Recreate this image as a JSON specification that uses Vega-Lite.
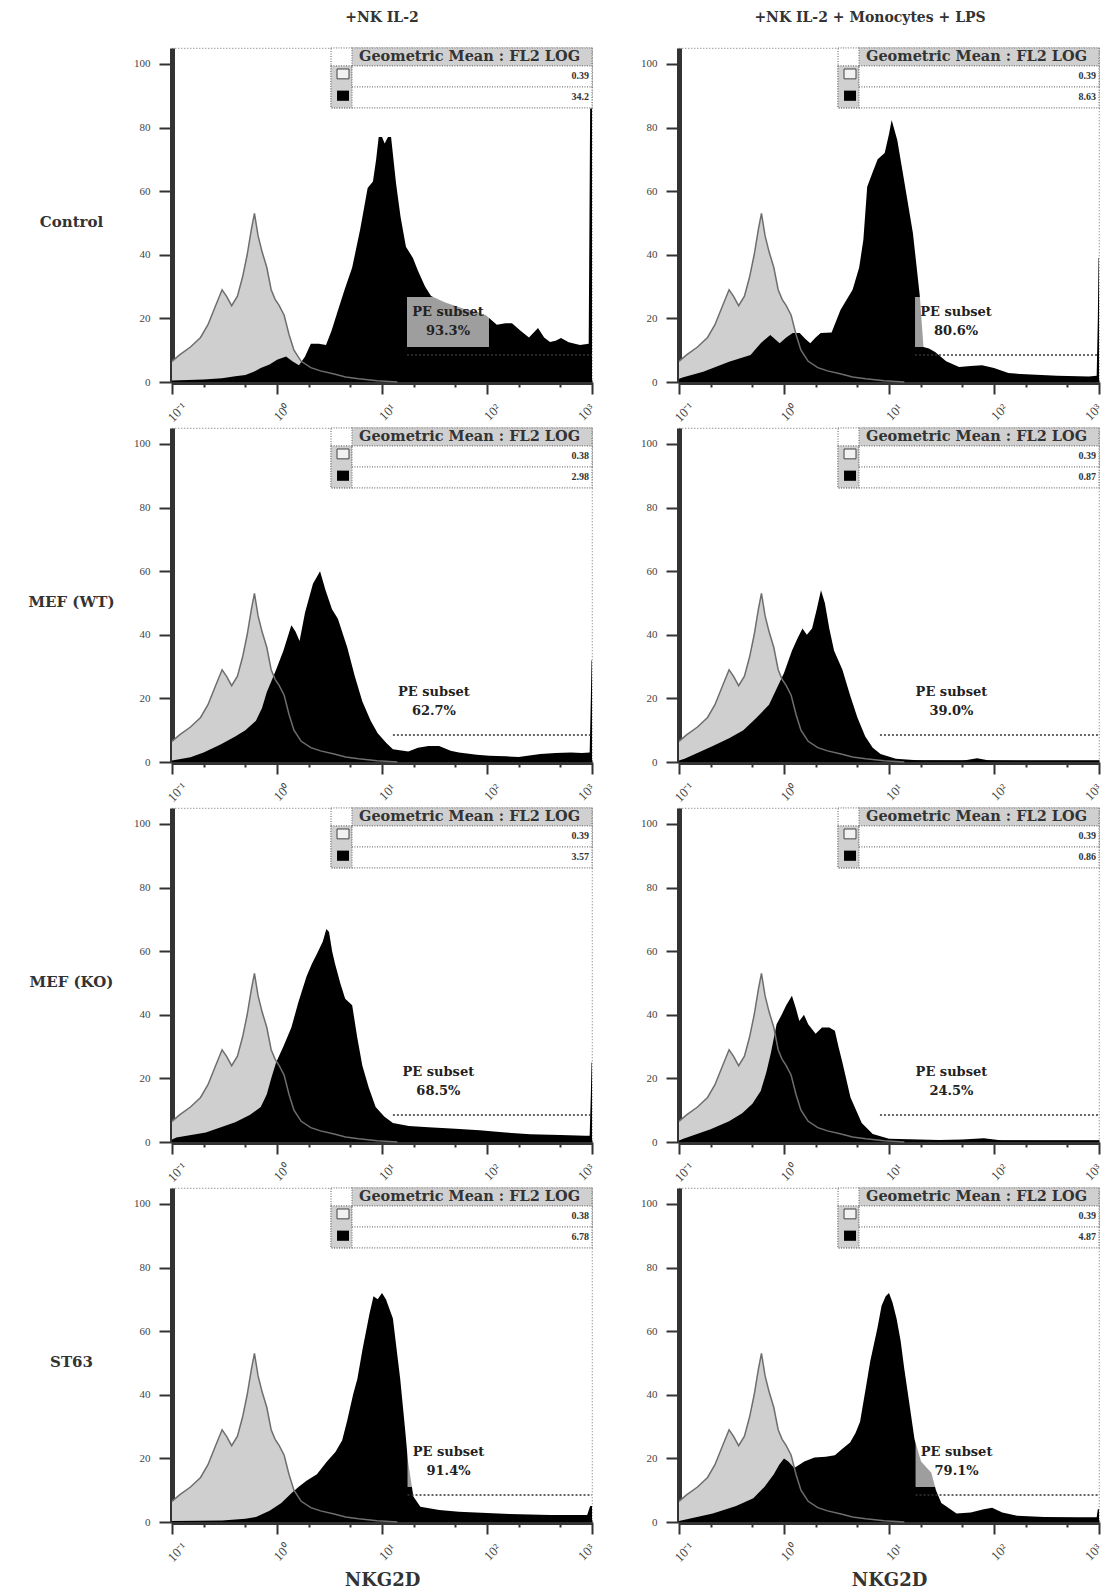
{
"$schema": "https://vega.github.io/schema/vega-lite/v6.json",
"background": "white",
"padding": {"left": 27, "top": 10, "right": 2, "bottom": 2},
"config": {
 "view": {"stroke": "#8a8a8a", "strokeDash": [1, 2], "strokeWidth": 1.2},
 "axis": {"grid": false, "domainColor": "#333", "domainWidth": 5, "tickColor": "#333", "tickWidth": 2, "labelFont": "Liberation Serif", "labelFontSize": 11, "labelColor": "#444", "titleFont": "DejaVu Serif", "titleFontWeight": "bold", "titleColor": "#333"},
 "title": {"font": "DejaVu Serif", "fontSize": 14, "fontWeight": "bold", "color": "#333", "offset": 22}
},
"datasets": {
 "iso": [
  {"v":0.1,"c":6.5},{"v":0.118,"c":8.5},{"v":0.15,"c":11},{"v":0.187,"c":14},{"v":0.22,"c":18},{"v":0.26,"c":24},{"v":0.3,"c":29},{"v":0.33,"c":27},{"v":0.37,"c":24},{"v":0.42,"c":27},{"v":0.47,"c":33},{"v":0.52,"c":40},{"v":0.57,"c":48},{"v":0.61,"c":53},{"v":0.66,"c":46},{"v":0.72,"c":41},{"v":0.8,"c":36},{"v":0.88,"c":29},{"v":0.96,"c":26},{"v":1.05,"c":24},{"v":1.17,"c":21},{"v":1.3,"c":15},{"v":1.45,"c":10},{"v":1.7,"c":6.5},{"v":2.1,"c":4.5},{"v":2.6,"c":3.5},{"v":3.5,"c":2.5},{"v":4.5,"c":1.6},{"v":6,"c":1},{"v":9,"c":0.4},{"v":14,"c":0}
 ],
 "meta": [
  {"p":"r1c1","gate":17.3,"lab":17.3,"pct":"93.3%","iso":"0.39","nk":"34.2"},
  {"p":"r1c2","gate":17.7,"lab":17.7,"pct":"80.6%","iso":"0.39","nk":"8.63"},
  {"p":"r2c1","gate":12.7,"lab":12.7,"pct":"62.7%","iso":"0.38","nk":"2.98"},
  {"p":"r2c2","gate":8.2,"lab":16,"pct":"39.0%","iso":"0.39","nk":"0.87"},
  {"p":"r3c1","gate":12.7,"lab":14,"pct":"68.5%","iso":"0.39","nk":"3.57"},
  {"p":"r3c2","gate":8.2,"lab":16,"pct":"24.5%","iso":"0.39","nk":"0.86"},
  {"p":"r4c1","gate":17.5,"lab":17.5,"pct":"91.4%","iso":"0.38","nk":"6.78"},
  {"p":"r4c2","gate":17.9,"lab":17.9,"pct":"79.1%","iso":"0.39","nk":"4.87"}
 ],
 "nk": [
  {"p":"r1c1","v":0.1,"c":0.5},{"p":"r1c1","v":0.2,"c":0.8},{"p":"r1c1","v":0.3,"c":1.2},{"p":"r1c1","v":0.4,"c":1.8},{"p":"r1c1","v":0.5,"c":2.2},{"p":"r1c1","v":0.6,"c":3.2},{"p":"r1c1","v":0.7,"c":4.4},{"p":"r1c1","v":0.85,"c":5.5},{"p":"r1c1","v":1.0,"c":7},{"p":"r1c1","v":1.22,"c":8},{"p":"r1c1","v":1.4,"c":6.5},{"p":"r1c1","v":1.62,"c":5.3},{"p":"r1c1","v":1.85,"c":8},{"p":"r1c1","v":2.1,"c":12},{"p":"r1c1","v":2.5,"c":12},{"p":"r1c1","v":2.93,"c":11.6},{"p":"r1c1","v":3.3,"c":16},{"p":"r1c1","v":3.73,"c":21.6},{"p":"r1c1","v":4.4,"c":29},{"p":"r1c1","v":5.2,"c":36},{"p":"r1c1","v":6.2,"c":48},{"p":"r1c1","v":7.3,"c":61},{"p":"r1c1","v":8.2,"c":63},{"p":"r1c1","v":8.8,"c":70},{"p":"r1c1","v":9.3,"c":77},{"p":"r1c1","v":10,"c":77},{"p":"r1c1","v":10.6,"c":75},{"p":"r1c1","v":11.4,"c":77},{"p":"r1c1","v":12.2,"c":77},{"p":"r1c1","v":13.6,"c":62.5},{"p":"r1c1","v":15,"c":52},{"p":"r1c1","v":16.9,"c":42.5},{"p":"r1c1","v":19.7,"c":39},{"p":"r1c1","v":22,"c":35},{"p":"r1c1","v":25.7,"c":30},{"p":"r1c1","v":29.3,"c":27},{"p":"r1c1","v":40,"c":25},{"p":"r1c1","v":60,"c":23},{"p":"r1c1","v":80,"c":22},{"p":"r1c1","v":97.7,"c":21},{"p":"r1c1","v":124,"c":18},{"p":"r1c1","v":150,"c":18.5},{"p":"r1c1","v":173,"c":18.5},{"p":"r1c1","v":210,"c":16},{"p":"r1c1","v":251,"c":14},{"p":"r1c1","v":306,"c":17},{"p":"r1c1","v":350,"c":14},{"p":"r1c1","v":398,"c":12.6},{"p":"r1c1","v":450,"c":13},{"p":"r1c1","v":507,"c":13.8},{"p":"r1c1","v":600,"c":12.5},{"p":"r1c1","v":769,"c":11.6},{"p":"r1c1","v":930,"c":12},{"p":"r1c1","v":960,"c":86},{"p":"r1c1","v":1000,"c":86},
  {"p":"r1c2","v":0.1,"c":1},{"p":"r1c2","v":0.11,"c":1.5},{"p":"r1c2","v":0.17,"c":3.2},{"p":"r1c2","v":0.3,"c":6.4},{"p":"r1c2","v":0.48,"c":8.5},{"p":"r1c2","v":0.6,"c":12.2},{"p":"r1c2","v":0.74,"c":14.8},{"p":"r1c2","v":0.91,"c":12.2},{"p":"r1c2","v":1.05,"c":14},{"p":"r1c2","v":1.21,"c":15.4},{"p":"r1c2","v":1.41,"c":15.4},{"p":"r1c2","v":1.6,"c":13.5},{"p":"r1c2","v":1.78,"c":12.2},{"p":"r1c2","v":2.0,"c":14},{"p":"r1c2","v":2.24,"c":15.4},{"p":"r1c2","v":2.84,"c":15.6},{"p":"r1c2","v":3.45,"c":22.6},{"p":"r1c2","v":4.5,"c":29},{"p":"r1c2","v":5.2,"c":36},{"p":"r1c2","v":5.7,"c":44.7},{"p":"r1c2","v":6.2,"c":61.4},{"p":"r1c2","v":7.0,"c":66},{"p":"r1c2","v":7.8,"c":70},{"p":"r1c2","v":9.1,"c":72},{"p":"r1c2","v":10,"c":78},{"p":"r1c2","v":10.6,"c":82.4},{"p":"r1c2","v":12,"c":76},{"p":"r1c2","v":13.9,"c":63.5},{"p":"r1c2","v":16.9,"c":46.8},{"p":"r1c2","v":19.7,"c":26.7},{"p":"r1c2","v":21.3,"c":11},{"p":"r1c2","v":24,"c":10.5},{"p":"r1c2","v":27.5,"c":9.4},{"p":"r1c2","v":35,"c":6.5},{"p":"r1c2","v":46.5,"c":4.7},{"p":"r1c2","v":60,"c":5},{"p":"r1c2","v":77,"c":5.3},{"p":"r1c2","v":100,"c":4.4},{"p":"r1c2","v":137,"c":2.8},{"p":"r1c2","v":200,"c":2.4},{"p":"r1c2","v":400,"c":2},{"p":"r1c2","v":800,"c":1.7},{"p":"r1c2","v":950,"c":2},{"p":"r1c2","v":975,"c":20},{"p":"r1c2","v":990,"c":39},{"p":"r1c2","v":1000,"c":39},
  {"p":"r2c1","v":0.1,"c":0.5},{"p":"r2c1","v":0.15,"c":1.5},{"p":"r2c1","v":0.2,"c":3},{"p":"r2c1","v":0.29,"c":5.5},{"p":"r2c1","v":0.4,"c":8},{"p":"r2c1","v":0.5,"c":10},{"p":"r2c1","v":0.63,"c":13},{"p":"r2c1","v":0.72,"c":17},{"p":"r2c1","v":0.8,"c":22},{"p":"r2c1","v":0.9,"c":26},{"p":"r2c1","v":0.98,"c":29},{"p":"r2c1","v":1.15,"c":35},{"p":"r2c1","v":1.37,"c":43},{"p":"r2c1","v":1.5,"c":41},{"p":"r2c1","v":1.64,"c":38},{"p":"r2c1","v":1.85,"c":47},{"p":"r2c1","v":2.2,"c":56},{"p":"r2c1","v":2.57,"c":60},{"p":"r2c1","v":2.9,"c":54},{"p":"r2c1","v":3.34,"c":48},{"p":"r2c1","v":3.8,"c":45},{"p":"r2c1","v":4.67,"c":36},{"p":"r2c1","v":5.5,"c":27},{"p":"r2c1","v":6.5,"c":19},{"p":"r2c1","v":7.8,"c":13},{"p":"r2c1","v":9.1,"c":9},{"p":"r2c1","v":11,"c":6},{"p":"r2c1","v":12.7,"c":4},{"p":"r2c1","v":17.8,"c":3.3},{"p":"r2c1","v":22,"c":4.5},{"p":"r2c1","v":27.7,"c":5},{"p":"r2c1","v":35,"c":5},{"p":"r2c1","v":45,"c":3.5},{"p":"r2c1","v":54,"c":3},{"p":"r2c1","v":80,"c":2.3},{"p":"r2c1","v":105,"c":2},{"p":"r2c1","v":150,"c":1.8},{"p":"r2c1","v":200,"c":1.6},{"p":"r2c1","v":322,"c":2.5},{"p":"r2c1","v":450,"c":2.8},{"p":"r2c1","v":630,"c":3},{"p":"r2c1","v":800,"c":2.8},{"p":"r2c1","v":950,"c":3},{"p":"r2c1","v":975,"c":20},{"p":"r2c1","v":990,"c":32},{"p":"r2c1","v":1000,"c":32},
  {"p":"r2c2","v":0.1,"c":0.5},{"p":"r2c2","v":0.113,"c":1},{"p":"r2c2","v":0.21,"c":5},{"p":"r2c2","v":0.3,"c":7.5},{"p":"r2c2","v":0.41,"c":10},{"p":"r2c2","v":0.55,"c":14},{"p":"r2c2","v":0.72,"c":18},{"p":"r2c2","v":0.85,"c":23},{"p":"r2c2","v":1.0,"c":28},{"p":"r2c2","v":1.19,"c":35},{"p":"r2c2","v":1.35,"c":39},{"p":"r2c2","v":1.5,"c":42},{"p":"r2c2","v":1.65,"c":40},{"p":"r2c2","v":1.85,"c":42},{"p":"r2c2","v":2.05,"c":48},{"p":"r2c2","v":2.25,"c":54},{"p":"r2c2","v":2.45,"c":50},{"p":"r2c2","v":2.7,"c":42},{"p":"r2c2","v":3.0,"c":35},{"p":"r2c2","v":3.6,"c":29},{"p":"r2c2","v":4.26,"c":21},{"p":"r2c2","v":5.0,"c":14},{"p":"r2c2","v":5.94,"c":8},{"p":"r2c2","v":7,"c":4.5},{"p":"r2c2","v":8.3,"c":2.5},{"p":"r2c2","v":11.6,"c":1},{"p":"r2c2","v":20,"c":0.5},{"p":"r2c2","v":50,"c":0.4},{"p":"r2c2","v":69,"c":1.2},{"p":"r2c2","v":90,"c":0.5},{"p":"r2c2","v":200,"c":0.3},{"p":"r2c2","v":1000,"c":0.3},
  {"p":"r3c1","v":0.1,"c":0.8},{"p":"r3c1","v":0.11,"c":1.4},{"p":"r3c1","v":0.21,"c":3},{"p":"r3c1","v":0.4,"c":6.2},{"p":"r3c1","v":0.55,"c":8.5},{"p":"r3c1","v":0.7,"c":11},{"p":"r3c1","v":0.8,"c":15},{"p":"r3c1","v":0.88,"c":20},{"p":"r3c1","v":0.98,"c":25},{"p":"r3c1","v":1.15,"c":30},{"p":"r3c1","v":1.37,"c":36},{"p":"r3c1","v":1.6,"c":44},{"p":"r3c1","v":1.91,"c":52},{"p":"r3c1","v":2.15,"c":56},{"p":"r3c1","v":2.39,"c":59},{"p":"r3c1","v":2.73,"c":63},{"p":"r3c1","v":2.95,"c":67},{"p":"r3c1","v":3.13,"c":66},{"p":"r3c1","v":3.35,"c":60},{"p":"r3c1","v":3.57,"c":56},{"p":"r3c1","v":4.0,"c":50},{"p":"r3c1","v":4.46,"c":45},{"p":"r3c1","v":5.2,"c":43},{"p":"r3c1","v":5.8,"c":33},{"p":"r3c1","v":6.5,"c":24},{"p":"r3c1","v":7.5,"c":17},{"p":"r3c1","v":8.7,"c":11},{"p":"r3c1","v":10.5,"c":8},{"p":"r3c1","v":12.7,"c":6},{"p":"r3c1","v":18,"c":5},{"p":"r3c1","v":27.7,"c":4.6},{"p":"r3c1","v":50,"c":4.2},{"p":"r3c1","v":85,"c":3.7},{"p":"r3c1","v":150,"c":3},{"p":"r3c1","v":258,"c":2.4},{"p":"r3c1","v":500,"c":2.2},{"p":"r3c1","v":870,"c":2},{"p":"r3c1","v":950,"c":2},{"p":"r3c1","v":975,"c":15},{"p":"r3c1","v":990,"c":25},{"p":"r3c1","v":1000,"c":25},
  {"p":"r3c2","v":0.1,"c":0.5},{"p":"r3c2","v":0.11,"c":1},{"p":"r3c2","v":0.2,"c":4},{"p":"r3c2","v":0.3,"c":6.5},{"p":"r3c2","v":0.4,"c":9},{"p":"r3c2","v":0.5,"c":12},{"p":"r3c2","v":0.6,"c":16},{"p":"r3c2","v":0.68,"c":22},{"p":"r3c2","v":0.75,"c":28},{"p":"r3c2","v":0.85,"c":37},{"p":"r3c2","v":0.95,"c":40},{"p":"r3c2","v":1.05,"c":43},{"p":"r3c2","v":1.19,"c":46},{"p":"r3c2","v":1.3,"c":42},{"p":"r3c2","v":1.4,"c":38},{"p":"r3c2","v":1.55,"c":40},{"p":"r3c2","v":1.7,"c":37},{"p":"r3c2","v":2.0,"c":34},{"p":"r3c2","v":2.3,"c":36},{"p":"r3c2","v":2.7,"c":36},{"p":"r3c2","v":3.05,"c":35},{"p":"r3c2","v":3.3,"c":30},{"p":"r3c2","v":3.6,"c":25},{"p":"r3c2","v":4.3,"c":14},{"p":"r3c2","v":5.5,"c":6},{"p":"r3c2","v":7,"c":2.5},{"p":"r3c2","v":10,"c":1},{"p":"r3c2","v":30,"c":0.6},{"p":"r3c2","v":50,"c":0.8},{"p":"r3c2","v":80,"c":1.2},{"p":"r3c2","v":120,"c":0.5},{"p":"r3c2","v":300,"c":0.4},{"p":"r3c2","v":1000,"c":0.4},
  {"p":"r4c1","v":0.1,"c":0.3},{"p":"r4c1","v":0.3,"c":0.5},{"p":"r4c1","v":0.5,"c":1},{"p":"r4c1","v":0.63,"c":1.6},{"p":"r4c1","v":0.85,"c":3.5},{"p":"r4c1","v":1.1,"c":6},{"p":"r4c1","v":1.37,"c":9},{"p":"r4c1","v":1.6,"c":11},{"p":"r4c1","v":1.91,"c":13},{"p":"r4c1","v":2.4,"c":15},{"p":"r4c1","v":2.99,"c":19},{"p":"r4c1","v":3.6,"c":22},{"p":"r4c1","v":4.17,"c":25.6},{"p":"r4c1","v":4.67,"c":32},{"p":"r4c1","v":5.3,"c":40},{"p":"r4c1","v":5.83,"c":45},{"p":"r4c1","v":6.5,"c":54},{"p":"r4c1","v":7.6,"c":65.5},{"p":"r4c1","v":8.3,"c":71},{"p":"r4c1","v":9.1,"c":70},{"p":"r4c1","v":10,"c":72},{"p":"r4c1","v":10.9,"c":70},{"p":"r4c1","v":12.7,"c":64},{"p":"r4c1","v":14.9,"c":45},{"p":"r4c1","v":16.5,"c":30},{"p":"r4c1","v":17.7,"c":19},{"p":"r4c1","v":19.9,"c":8},{"p":"r4c1","v":23.2,"c":4.8},{"p":"r4c1","v":35,"c":3.8},{"p":"r4c1","v":54,"c":3.2},{"p":"r4c1","v":100,"c":2.8},{"p":"r4c1","v":164,"c":2.5},{"p":"r4c1","v":400,"c":2.2},{"p":"r4c1","v":900,"c":2.2},{"p":"r4c1","v":960,"c":5},{"p":"r4c1","v":1000,"c":5},
  {"p":"r4c2","v":0.1,"c":0.3},{"p":"r4c2","v":0.21,"c":2.7},{"p":"r4c2","v":0.35,"c":5},{"p":"r4c2","v":0.51,"c":7.5},{"p":"r4c2","v":0.65,"c":11},{"p":"r4c2","v":0.8,"c":15},{"p":"r4c2","v":0.9,"c":18},{"p":"r4c2","v":1.0,"c":20},{"p":"r4c2","v":1.1,"c":19},{"p":"r4c2","v":1.25,"c":17},{"p":"r4c2","v":1.4,"c":18},{"p":"r4c2","v":1.56,"c":19},{"p":"r4c2","v":1.95,"c":20.3},{"p":"r4c2","v":2.5,"c":20.5},{"p":"r4c2","v":3.05,"c":21},{"p":"r4c2","v":3.6,"c":23},{"p":"r4c2","v":4.26,"c":25},{"p":"r4c2","v":4.8,"c":28},{"p":"r4c2","v":5.3,"c":31.5},{"p":"r4c2","v":6.0,"c":42},{"p":"r4c2","v":6.64,"c":50.7},{"p":"r4c2","v":7.76,"c":61},{"p":"r4c2","v":8.5,"c":68},{"p":"r4c2","v":9.3,"c":71},{"p":"r4c2","v":10,"c":72},{"p":"r4c2","v":10.8,"c":69},{"p":"r4c2","v":11.8,"c":64},{"p":"r4c2","v":12.9,"c":57},{"p":"r4c2","v":14,"c":48},{"p":"r4c2","v":15.5,"c":38},{"p":"r4c2","v":17.5,"c":26},{"p":"r4c2","v":20.2,"c":19},{"p":"r4c2","v":23,"c":17},{"p":"r4c2","v":25.3,"c":15.5},{"p":"r4c2","v":28,"c":10},{"p":"r4c2","v":31.5,"c":6},{"p":"r4c2","v":44,"c":2.7},{"p":"r4c2","v":60,"c":3},{"p":"r4c2","v":80,"c":4},{"p":"r4c2","v":96,"c":4.5},{"p":"r4c2","v":120,"c":3},{"p":"r4c2","v":166,"c":2},{"p":"r4c2","v":300,"c":1.6},{"p":"r4c2","v":630,"c":1.5},{"p":"r4c2","v":950,"c":1.5},{"p":"r4c2","v":975,"c":4},{"p":"r4c2","v":1000,"c":4}
 ]
},
"columns": 2,
"spacing": {"row": 46, "column": 87},
"bounds": "flush",
"concat": [
 {"width": 420, "height": 334, "title": {"text": "+NK IL-2"},
  "layer": [
   {"data": {"name": "iso"}, "mark": {"type": "area", "color": "#cfcfcf"},
    "encoding": {"x": {"field": "v", "type": "quantitative", "scale": {"type": "log", "domain": [0.1, 1000]}, "axis": {"title": null, "values": [0.1,0.2,0.5,1,2,5,10,20,50,100,200,500,1000], "labelExpr": "datum.value == 0.1 ? '10⁻¹' : datum.value == 1 ? '10⁰' : datum.value == 10 ? '10¹' : datum.value == 100 ? '10²' : datum.value == 1000 ? '10³' : ''", "tickSize": {"condition": {"test": "datum.value == 0.1 || datum.value == 1 || datum.value == 10 || datum.value == 100 || datum.value == 1000", "value": 12}, "value": 5}, "labelAngle": -45, "labelAlign": "center", "labelBaseline": "middle", "labelPadding": 18, "labelOffset": {"condition": {"test": "datum.value == 1000", "value": -6}, "value": 5}, "labelFontSize": 13, "labelFlush": false, "labelOverlap": false}},
     "y": {"field": "c", "type": "quantitative", "scale": {"domain": [0, 105], "nice": false}, "axis": {"values": [0,20,40,60,80,100], "tickSize": 13, "labelPadding": 9, "title": "Control", "titleAngle": 0, "titleX": -101, "titleY": 173, "titleAlign": "center", "titleBaseline": "middle", "titleFontSize": 15}}}},
   {"data": {"name": "nk"}, "transform": [{"filter": "datum.p == 'r1c1'"}], "mark": {"type": "area", "color": "#000000"}, "encoding": {"x": {"field": "v", "type": "quantitative"}, "y": {"field": "c", "type": "quantitative"}}},
   {"data": {"name": "iso"}, "mark": {"type": "line", "color": "#6e6e6e", "strokeWidth": 1.5}, "encoding": {"x": {"field": "v", "type": "quantitative"}, "y": {"field": "c", "type": "quantitative"}}},
   {"data": {"name": "meta"}, "transform": [{"filter": "datum.p == 'r1c1'"}], "mark": {"type": "rule", "color": "#333", "strokeWidth": 1.5, "strokeDash": [2, 2]}, "encoding": {"x": {"field": "gate", "type": "quantitative"}, "x2": {"datum": 1000}, "y": {"datum": 8.5}}},
   {"data": {"name": "meta"}, "transform": [{"filter": "datum.p == 'r1c1'"}], "mark": {"type": "rect", "color": "#ffffff", "opacity": 0.62, "x2Offset": 82}, "encoding": {"x": {"field": "lab", "type": "quantitative"}, "x2": {"field": "lab"}, "y": {"datum": 11}, "y2": {"datum": 26.7}}},
   {"data": {"name": "meta"}, "transform": [{"filter": "datum.p == 'r1c1'"}], "mark": {"type": "text", "text": "PE subset", "dx": 41, "font": "DejaVu Serif", "fontWeight": "bold", "fontSize": 13, "color": "#222", "align": "center", "baseline": "middle"}, "encoding": {"x": {"field": "lab", "type": "quantitative"}, "y": {"datum": 22}}},
   {"data": {"name": "meta"}, "transform": [{"filter": "datum.p == 'r1c1'"}], "mark": {"type": "text", "dx": 41, "font": "DejaVu Serif", "fontWeight": "bold", "fontSize": 13, "color": "#222", "align": "center", "baseline": "middle"}, "encoding": {"x": {"field": "lab", "type": "quantitative"}, "y": {"datum": 16}, "text": {"field": "pct"}}},
   {"data": {"values": [{}]}, "mark": {"type": "rect", "fill": "#ffffff", "stroke": "#777", "strokeDash": [1, 1.5], "strokeWidth": 1.2}, "encoding": {"x": {"datum": 3.27}, "x2": {"datum": 1000}, "y": {"datum": 86.2}, "y2": {"datum": 105}}},
   {"data": {"values": [{}]}, "mark": {"type": "rect", "fill": "#d0d0d0", "stroke": "#777", "strokeDash": [1, 1.5], "strokeWidth": 1.2}, "encoding": {"x": {"datum": 5.18}, "x2": {"datum": 1000}, "y": {"datum": 99.4}, "y2": {"datum": 105}}},
   {"data": {"values": [{}]}, "mark": {"type": "rect", "fill": "#d0d0d0", "stroke": "#777", "strokeDash": [1, 1.5], "strokeWidth": 1.2}, "encoding": {"x": {"datum": 3.27}, "x2": {"datum": 5.18}, "y": {"datum": 86.2}, "y2": {"datum": 99.4}}},
   {"data": {"values": [{}]}, "mark": {"type": "rect", "fill": "#ffffff", "stroke": "#777", "strokeDash": [1, 1.5], "strokeWidth": 1.2}, "encoding": {"x": {"datum": 5.18}, "x2": {"datum": 1000}, "y": {"datum": 92.8}, "y2": {"datum": 99.4}}},
   {"data": {"values": [{}]}, "mark": {"type": "rect", "fill": "#f2f2f2", "stroke": "#444", "strokeWidth": 1}, "encoding": {"x": {"datum": 3.73}, "x2": {"datum": 4.85}, "y": {"datum": 95.3}, "y2": {"datum": 98.4}}},
   {"data": {"values": [{}]}, "mark": {"type": "rect", "fill": "#000000"}, "encoding": {"x": {"datum": 3.73}, "x2": {"datum": 4.85}, "y": {"datum": 88.4}, "y2": {"datum": 91.6}}},
   {"data": {"values": [{}]}, "mark": {"type": "text", "text": "Geometric Mean : FL2 LOG", "font": "DejaVu Serif", "fontWeight": "bold", "fontSize": 14.5, "color": "#333", "align": "left", "baseline": "middle"}, "encoding": {"x": {"datum": 6.04}, "y": {"datum": 102.2}}},
   {"data": {"name": "meta"}, "transform": [{"filter": "datum.p == 'r1c1'"}], "mark": {"type": "text", "font": "Liberation Serif", "fontWeight": "bold", "fontSize": 10, "color": "#333", "align": "right", "baseline": "middle"}, "encoding": {"x": {"datum": 935}, "y": {"datum": 96.1}, "text": {"field": "iso"}}},
   {"data": {"name": "meta"}, "transform": [{"filter": "datum.p == 'r1c1'"}], "mark": {"type": "text", "font": "Liberation Serif", "fontWeight": "bold", "fontSize": 10, "color": "#333", "align": "right", "baseline": "middle"}, "encoding": {"x": {"datum": 935}, "y": {"datum": 89.5}, "text": {"field": "nk"}}}
  ]},
 {"width": 420, "height": 334, "title": {"text": "+NK IL-2 + Monocytes + LPS", "dx": -19},
  "layer": [
   {"data": {"name": "iso"}, "mark": {"type": "area", "color": "#cfcfcf"},
    "encoding": {"x": {"field": "v", "type": "quantitative", "scale": {"type": "log", "domain": [0.1, 1000]}, "axis": {"title": null, "values": [0.1,0.2,0.5,1,2,5,10,20,50,100,200,500,1000], "labelExpr": "datum.value == 0.1 ? '10⁻¹' : datum.value == 1 ? '10⁰' : datum.value == 10 ? '10¹' : datum.value == 100 ? '10²' : datum.value == 1000 ? '10³' : ''", "tickSize": {"condition": {"test": "datum.value == 0.1 || datum.value == 1 || datum.value == 10 || datum.value == 100 || datum.value == 1000", "value": 12}, "value": 5}, "labelAngle": -45, "labelAlign": "center", "labelBaseline": "middle", "labelPadding": 18, "labelOffset": {"condition": {"test": "datum.value == 1000", "value": -6}, "value": 5}, "labelFontSize": 13, "labelFlush": false, "labelOverlap": false}},
     "y": {"field": "c", "type": "quantitative", "scale": {"domain": [0, 105], "nice": false}, "axis": {"values": [0,20,40,60,80,100], "tickSize": 13, "labelPadding": 9, "title": null}}}},
   {"data": {"name": "nk"}, "transform": [{"filter": "datum.p == 'r1c2'"}], "mark": {"type": "area", "color": "#000000"}, "encoding": {"x": {"field": "v", "type": "quantitative"}, "y": {"field": "c", "type": "quantitative"}}},
   {"data": {"name": "iso"}, "mark": {"type": "line", "color": "#6e6e6e", "strokeWidth": 1.5}, "encoding": {"x": {"field": "v", "type": "quantitative"}, "y": {"field": "c", "type": "quantitative"}}},
   {"data": {"name": "meta"}, "transform": [{"filter": "datum.p == 'r1c2'"}], "mark": {"type": "rule", "color": "#333", "strokeWidth": 1.5, "strokeDash": [2, 2]}, "encoding": {"x": {"field": "gate", "type": "quantitative"}, "x2": {"datum": 1000}, "y": {"datum": 8.5}}},
   {"data": {"name": "meta"}, "transform": [{"filter": "datum.p == 'r1c2'"}], "mark": {"type": "rect", "color": "#ffffff", "opacity": 0.62, "x2Offset": 82}, "encoding": {"x": {"field": "lab", "type": "quantitative"}, "x2": {"field": "lab"}, "y": {"datum": 11}, "y2": {"datum": 26.7}}},
   {"data": {"name": "meta"}, "transform": [{"filter": "datum.p == 'r1c2'"}], "mark": {"type": "text", "text": "PE subset", "dx": 41, "font": "DejaVu Serif", "fontWeight": "bold", "fontSize": 13, "color": "#222", "align": "center", "baseline": "middle"}, "encoding": {"x": {"field": "lab", "type": "quantitative"}, "y": {"datum": 22}}},
   {"data": {"name": "meta"}, "transform": [{"filter": "datum.p == 'r1c2'"}], "mark": {"type": "text", "dx": 41, "font": "DejaVu Serif", "fontWeight": "bold", "fontSize": 13, "color": "#222", "align": "center", "baseline": "middle"}, "encoding": {"x": {"field": "lab", "type": "quantitative"}, "y": {"datum": 16}, "text": {"field": "pct"}}},
   {"data": {"values": [{}]}, "mark": {"type": "rect", "fill": "#ffffff", "stroke": "#777", "strokeDash": [1, 1.5], "strokeWidth": 1.2}, "encoding": {"x": {"datum": 3.27}, "x2": {"datum": 1000}, "y": {"datum": 86.2}, "y2": {"datum": 105}}},
   {"data": {"values": [{}]}, "mark": {"type": "rect", "fill": "#d0d0d0", "stroke": "#777", "strokeDash": [1, 1.5], "strokeWidth": 1.2}, "encoding": {"x": {"datum": 5.18}, "x2": {"datum": 1000}, "y": {"datum": 99.4}, "y2": {"datum": 105}}},
   {"data": {"values": [{}]}, "mark": {"type": "rect", "fill": "#d0d0d0", "stroke": "#777", "strokeDash": [1, 1.5], "strokeWidth": 1.2}, "encoding": {"x": {"datum": 3.27}, "x2": {"datum": 5.18}, "y": {"datum": 86.2}, "y2": {"datum": 99.4}}},
   {"data": {"values": [{}]}, "mark": {"type": "rect", "fill": "#ffffff", "stroke": "#777", "strokeDash": [1, 1.5], "strokeWidth": 1.2}, "encoding": {"x": {"datum": 5.18}, "x2": {"datum": 1000}, "y": {"datum": 92.8}, "y2": {"datum": 99.4}}},
   {"data": {"values": [{}]}, "mark": {"type": "rect", "fill": "#f2f2f2", "stroke": "#444", "strokeWidth": 1}, "encoding": {"x": {"datum": 3.73}, "x2": {"datum": 4.85}, "y": {"datum": 95.3}, "y2": {"datum": 98.4}}},
   {"data": {"values": [{}]}, "mark": {"type": "rect", "fill": "#000000"}, "encoding": {"x": {"datum": 3.73}, "x2": {"datum": 4.85}, "y": {"datum": 88.4}, "y2": {"datum": 91.6}}},
   {"data": {"values": [{}]}, "mark": {"type": "text", "text": "Geometric Mean : FL2 LOG", "font": "DejaVu Serif", "fontWeight": "bold", "fontSize": 14.5, "color": "#333", "align": "left", "baseline": "middle"}, "encoding": {"x": {"datum": 6.04}, "y": {"datum": 102.2}}},
   {"data": {"name": "meta"}, "transform": [{"filter": "datum.p == 'r1c2'"}], "mark": {"type": "text", "font": "Liberation Serif", "fontWeight": "bold", "fontSize": 10, "color": "#333", "align": "right", "baseline": "middle"}, "encoding": {"x": {"datum": 935}, "y": {"datum": 96.1}, "text": {"field": "iso"}}},
   {"data": {"name": "meta"}, "transform": [{"filter": "datum.p == 'r1c2'"}], "mark": {"type": "text", "font": "Liberation Serif", "fontWeight": "bold", "fontSize": 10, "color": "#333", "align": "right", "baseline": "middle"}, "encoding": {"x": {"datum": 935}, "y": {"datum": 89.5}, "text": {"field": "nk"}}}
  ]},
 {"width": 420, "height": 334,
  "layer": [
   {"data": {"name": "iso"}, "mark": {"type": "area", "color": "#cfcfcf"},
    "encoding": {"x": {"field": "v", "type": "quantitative", "scale": {"type": "log", "domain": [0.1, 1000]}, "axis": {"title": null, "values": [0.1,0.2,0.5,1,2,5,10,20,50,100,200,500,1000], "labelExpr": "datum.value == 0.1 ? '10⁻¹' : datum.value == 1 ? '10⁰' : datum.value == 10 ? '10¹' : datum.value == 100 ? '10²' : datum.value == 1000 ? '10³' : ''", "tickSize": {"condition": {"test": "datum.value == 0.1 || datum.value == 1 || datum.value == 10 || datum.value == 100 || datum.value == 1000", "value": 12}, "value": 5}, "labelAngle": -45, "labelAlign": "center", "labelBaseline": "middle", "labelPadding": 18, "labelOffset": {"condition": {"test": "datum.value == 1000", "value": -6}, "value": 5}, "labelFontSize": 13, "labelFlush": false, "labelOverlap": false}},
     "y": {"field": "c", "type": "quantitative", "scale": {"domain": [0, 105], "nice": false}, "axis": {"values": [0,20,40,60,80,100], "tickSize": 13, "labelPadding": 9, "title": "MEF (WT)", "titleAngle": 0, "titleX": -101, "titleY": 173, "titleAlign": "center", "titleBaseline": "middle", "titleFontSize": 15}}}},
   {"data": {"name": "nk"}, "transform": [{"filter": "datum.p == 'r2c1'"}], "mark": {"type": "area", "color": "#000000"}, "encoding": {"x": {"field": "v", "type": "quantitative"}, "y": {"field": "c", "type": "quantitative"}}},
   {"data": {"name": "iso"}, "mark": {"type": "line", "color": "#6e6e6e", "strokeWidth": 1.5}, "encoding": {"x": {"field": "v", "type": "quantitative"}, "y": {"field": "c", "type": "quantitative"}}},
   {"data": {"name": "meta"}, "transform": [{"filter": "datum.p == 'r2c1'"}], "mark": {"type": "rule", "color": "#333", "strokeWidth": 1.5, "strokeDash": [2, 2]}, "encoding": {"x": {"field": "gate", "type": "quantitative"}, "x2": {"datum": 1000}, "y": {"datum": 8.5}}},
   {"data": {"name": "meta"}, "transform": [{"filter": "datum.p == 'r2c1'"}], "mark": {"type": "rect", "color": "#ffffff", "opacity": 0.62, "x2Offset": 82}, "encoding": {"x": {"field": "lab", "type": "quantitative"}, "x2": {"field": "lab"}, "y": {"datum": 11}, "y2": {"datum": 26.7}}},
   {"data": {"name": "meta"}, "transform": [{"filter": "datum.p == 'r2c1'"}], "mark": {"type": "text", "text": "PE subset", "dx": 41, "font": "DejaVu Serif", "fontWeight": "bold", "fontSize": 13, "color": "#222", "align": "center", "baseline": "middle"}, "encoding": {"x": {"field": "lab", "type": "quantitative"}, "y": {"datum": 22}}},
   {"data": {"name": "meta"}, "transform": [{"filter": "datum.p == 'r2c1'"}], "mark": {"type": "text", "dx": 41, "font": "DejaVu Serif", "fontWeight": "bold", "fontSize": 13, "color": "#222", "align": "center", "baseline": "middle"}, "encoding": {"x": {"field": "lab", "type": "quantitative"}, "y": {"datum": 16}, "text": {"field": "pct"}}},
   {"data": {"values": [{}]}, "mark": {"type": "rect", "fill": "#ffffff", "stroke": "#777", "strokeDash": [1, 1.5], "strokeWidth": 1.2}, "encoding": {"x": {"datum": 3.27}, "x2": {"datum": 1000}, "y": {"datum": 86.2}, "y2": {"datum": 105}}},
   {"data": {"values": [{}]}, "mark": {"type": "rect", "fill": "#d0d0d0", "stroke": "#777", "strokeDash": [1, 1.5], "strokeWidth": 1.2}, "encoding": {"x": {"datum": 5.18}, "x2": {"datum": 1000}, "y": {"datum": 99.4}, "y2": {"datum": 105}}},
   {"data": {"values": [{}]}, "mark": {"type": "rect", "fill": "#d0d0d0", "stroke": "#777", "strokeDash": [1, 1.5], "strokeWidth": 1.2}, "encoding": {"x": {"datum": 3.27}, "x2": {"datum": 5.18}, "y": {"datum": 86.2}, "y2": {"datum": 99.4}}},
   {"data": {"values": [{}]}, "mark": {"type": "rect", "fill": "#ffffff", "stroke": "#777", "strokeDash": [1, 1.5], "strokeWidth": 1.2}, "encoding": {"x": {"datum": 5.18}, "x2": {"datum": 1000}, "y": {"datum": 92.8}, "y2": {"datum": 99.4}}},
   {"data": {"values": [{}]}, "mark": {"type": "rect", "fill": "#f2f2f2", "stroke": "#444", "strokeWidth": 1}, "encoding": {"x": {"datum": 3.73}, "x2": {"datum": 4.85}, "y": {"datum": 95.3}, "y2": {"datum": 98.4}}},
   {"data": {"values": [{}]}, "mark": {"type": "rect", "fill": "#000000"}, "encoding": {"x": {"datum": 3.73}, "x2": {"datum": 4.85}, "y": {"datum": 88.4}, "y2": {"datum": 91.6}}},
   {"data": {"values": [{}]}, "mark": {"type": "text", "text": "Geometric Mean : FL2 LOG", "font": "DejaVu Serif", "fontWeight": "bold", "fontSize": 14.5, "color": "#333", "align": "left", "baseline": "middle"}, "encoding": {"x": {"datum": 6.04}, "y": {"datum": 102.2}}},
   {"data": {"name": "meta"}, "transform": [{"filter": "datum.p == 'r2c1'"}], "mark": {"type": "text", "font": "Liberation Serif", "fontWeight": "bold", "fontSize": 10, "color": "#333", "align": "right", "baseline": "middle"}, "encoding": {"x": {"datum": 935}, "y": {"datum": 96.1}, "text": {"field": "iso"}}},
   {"data": {"name": "meta"}, "transform": [{"filter": "datum.p == 'r2c1'"}], "mark": {"type": "text", "font": "Liberation Serif", "fontWeight": "bold", "fontSize": 10, "color": "#333", "align": "right", "baseline": "middle"}, "encoding": {"x": {"datum": 935}, "y": {"datum": 89.5}, "text": {"field": "nk"}}}
  ]},
 {"width": 420, "height": 334,
  "layer": [
   {"data": {"name": "iso"}, "mark": {"type": "area", "color": "#cfcfcf"},
    "encoding": {"x": {"field": "v", "type": "quantitative", "scale": {"type": "log", "domain": [0.1, 1000]}, "axis": {"title": null, "values": [0.1,0.2,0.5,1,2,5,10,20,50,100,200,500,1000], "labelExpr": "datum.value == 0.1 ? '10⁻¹' : datum.value == 1 ? '10⁰' : datum.value == 10 ? '10¹' : datum.value == 100 ? '10²' : datum.value == 1000 ? '10³' : ''", "tickSize": {"condition": {"test": "datum.value == 0.1 || datum.value == 1 || datum.value == 10 || datum.value == 100 || datum.value == 1000", "value": 12}, "value": 5}, "labelAngle": -45, "labelAlign": "center", "labelBaseline": "middle", "labelPadding": 18, "labelOffset": {"condition": {"test": "datum.value == 1000", "value": -6}, "value": 5}, "labelFontSize": 13, "labelFlush": false, "labelOverlap": false}},
     "y": {"field": "c", "type": "quantitative", "scale": {"domain": [0, 105], "nice": false}, "axis": {"values": [0,20,40,60,80,100], "tickSize": 13, "labelPadding": 9, "title": null}}}},
   {"data": {"name": "nk"}, "transform": [{"filter": "datum.p == 'r2c2'"}], "mark": {"type": "area", "color": "#000000"}, "encoding": {"x": {"field": "v", "type": "quantitative"}, "y": {"field": "c", "type": "quantitative"}}},
   {"data": {"name": "iso"}, "mark": {"type": "line", "color": "#6e6e6e", "strokeWidth": 1.5}, "encoding": {"x": {"field": "v", "type": "quantitative"}, "y": {"field": "c", "type": "quantitative"}}},
   {"data": {"name": "meta"}, "transform": [{"filter": "datum.p == 'r2c2'"}], "mark": {"type": "rule", "color": "#333", "strokeWidth": 1.5, "strokeDash": [2, 2]}, "encoding": {"x": {"field": "gate", "type": "quantitative"}, "x2": {"datum": 1000}, "y": {"datum": 8.5}}},
   {"data": {"name": "meta"}, "transform": [{"filter": "datum.p == 'r2c2'"}], "mark": {"type": "rect", "color": "#ffffff", "opacity": 0.62, "x2Offset": 82}, "encoding": {"x": {"field": "lab", "type": "quantitative"}, "x2": {"field": "lab"}, "y": {"datum": 11}, "y2": {"datum": 26.7}}},
   {"data": {"name": "meta"}, "transform": [{"filter": "datum.p == 'r2c2'"}], "mark": {"type": "text", "text": "PE subset", "dx": 41, "font": "DejaVu Serif", "fontWeight": "bold", "fontSize": 13, "color": "#222", "align": "center", "baseline": "middle"}, "encoding": {"x": {"field": "lab", "type": "quantitative"}, "y": {"datum": 22}}},
   {"data": {"name": "meta"}, "transform": [{"filter": "datum.p == 'r2c2'"}], "mark": {"type": "text", "dx": 41, "font": "DejaVu Serif", "fontWeight": "bold", "fontSize": 13, "color": "#222", "align": "center", "baseline": "middle"}, "encoding": {"x": {"field": "lab", "type": "quantitative"}, "y": {"datum": 16}, "text": {"field": "pct"}}},
   {"data": {"values": [{}]}, "mark": {"type": "rect", "fill": "#ffffff", "stroke": "#777", "strokeDash": [1, 1.5], "strokeWidth": 1.2}, "encoding": {"x": {"datum": 3.27}, "x2": {"datum": 1000}, "y": {"datum": 86.2}, "y2": {"datum": 105}}},
   {"data": {"values": [{}]}, "mark": {"type": "rect", "fill": "#d0d0d0", "stroke": "#777", "strokeDash": [1, 1.5], "strokeWidth": 1.2}, "encoding": {"x": {"datum": 5.18}, "x2": {"datum": 1000}, "y": {"datum": 99.4}, "y2": {"datum": 105}}},
   {"data": {"values": [{}]}, "mark": {"type": "rect", "fill": "#d0d0d0", "stroke": "#777", "strokeDash": [1, 1.5], "strokeWidth": 1.2}, "encoding": {"x": {"datum": 3.27}, "x2": {"datum": 5.18}, "y": {"datum": 86.2}, "y2": {"datum": 99.4}}},
   {"data": {"values": [{}]}, "mark": {"type": "rect", "fill": "#ffffff", "stroke": "#777", "strokeDash": [1, 1.5], "strokeWidth": 1.2}, "encoding": {"x": {"datum": 5.18}, "x2": {"datum": 1000}, "y": {"datum": 92.8}, "y2": {"datum": 99.4}}},
   {"data": {"values": [{}]}, "mark": {"type": "rect", "fill": "#f2f2f2", "stroke": "#444", "strokeWidth": 1}, "encoding": {"x": {"datum": 3.73}, "x2": {"datum": 4.85}, "y": {"datum": 95.3}, "y2": {"datum": 98.4}}},
   {"data": {"values": [{}]}, "mark": {"type": "rect", "fill": "#000000"}, "encoding": {"x": {"datum": 3.73}, "x2": {"datum": 4.85}, "y": {"datum": 88.4}, "y2": {"datum": 91.6}}},
   {"data": {"values": [{}]}, "mark": {"type": "text", "text": "Geometric Mean : FL2 LOG", "font": "DejaVu Serif", "fontWeight": "bold", "fontSize": 14.5, "color": "#333", "align": "left", "baseline": "middle"}, "encoding": {"x": {"datum": 6.04}, "y": {"datum": 102.2}}},
   {"data": {"name": "meta"}, "transform": [{"filter": "datum.p == 'r2c2'"}], "mark": {"type": "text", "font": "Liberation Serif", "fontWeight": "bold", "fontSize": 10, "color": "#333", "align": "right", "baseline": "middle"}, "encoding": {"x": {"datum": 935}, "y": {"datum": 96.1}, "text": {"field": "iso"}}},
   {"data": {"name": "meta"}, "transform": [{"filter": "datum.p == 'r2c2'"}], "mark": {"type": "text", "font": "Liberation Serif", "fontWeight": "bold", "fontSize": 10, "color": "#333", "align": "right", "baseline": "middle"}, "encoding": {"x": {"datum": 935}, "y": {"datum": 89.5}, "text": {"field": "nk"}}}
  ]},
 {"width": 420, "height": 334,
  "layer": [
   {"data": {"name": "iso"}, "mark": {"type": "area", "color": "#cfcfcf"},
    "encoding": {"x": {"field": "v", "type": "quantitative", "scale": {"type": "log", "domain": [0.1, 1000]}, "axis": {"title": null, "values": [0.1,0.2,0.5,1,2,5,10,20,50,100,200,500,1000], "labelExpr": "datum.value == 0.1 ? '10⁻¹' : datum.value == 1 ? '10⁰' : datum.value == 10 ? '10¹' : datum.value == 100 ? '10²' : datum.value == 1000 ? '10³' : ''", "tickSize": {"condition": {"test": "datum.value == 0.1 || datum.value == 1 || datum.value == 10 || datum.value == 100 || datum.value == 1000", "value": 12}, "value": 5}, "labelAngle": -45, "labelAlign": "center", "labelBaseline": "middle", "labelPadding": 18, "labelOffset": {"condition": {"test": "datum.value == 1000", "value": -6}, "value": 5}, "labelFontSize": 13, "labelFlush": false, "labelOverlap": false}},
     "y": {"field": "c", "type": "quantitative", "scale": {"domain": [0, 105], "nice": false}, "axis": {"values": [0,20,40,60,80,100], "tickSize": 13, "labelPadding": 9, "title": "MEF (KO)", "titleAngle": 0, "titleX": -101, "titleY": 173, "titleAlign": "center", "titleBaseline": "middle", "titleFontSize": 15}}}},
   {"data": {"name": "nk"}, "transform": [{"filter": "datum.p == 'r3c1'"}], "mark": {"type": "area", "color": "#000000"}, "encoding": {"x": {"field": "v", "type": "quantitative"}, "y": {"field": "c", "type": "quantitative"}}},
   {"data": {"name": "iso"}, "mark": {"type": "line", "color": "#6e6e6e", "strokeWidth": 1.5}, "encoding": {"x": {"field": "v", "type": "quantitative"}, "y": {"field": "c", "type": "quantitative"}}},
   {"data": {"name": "meta"}, "transform": [{"filter": "datum.p == 'r3c1'"}], "mark": {"type": "rule", "color": "#333", "strokeWidth": 1.5, "strokeDash": [2, 2]}, "encoding": {"x": {"field": "gate", "type": "quantitative"}, "x2": {"datum": 1000}, "y": {"datum": 8.5}}},
   {"data": {"name": "meta"}, "transform": [{"filter": "datum.p == 'r3c1'"}], "mark": {"type": "rect", "color": "#ffffff", "opacity": 0.62, "x2Offset": 82}, "encoding": {"x": {"field": "lab", "type": "quantitative"}, "x2": {"field": "lab"}, "y": {"datum": 11}, "y2": {"datum": 26.7}}},
   {"data": {"name": "meta"}, "transform": [{"filter": "datum.p == 'r3c1'"}], "mark": {"type": "text", "text": "PE subset", "dx": 41, "font": "DejaVu Serif", "fontWeight": "bold", "fontSize": 13, "color": "#222", "align": "center", "baseline": "middle"}, "encoding": {"x": {"field": "lab", "type": "quantitative"}, "y": {"datum": 22}}},
   {"data": {"name": "meta"}, "transform": [{"filter": "datum.p == 'r3c1'"}], "mark": {"type": "text", "dx": 41, "font": "DejaVu Serif", "fontWeight": "bold", "fontSize": 13, "color": "#222", "align": "center", "baseline": "middle"}, "encoding": {"x": {"field": "lab", "type": "quantitative"}, "y": {"datum": 16}, "text": {"field": "pct"}}},
   {"data": {"values": [{}]}, "mark": {"type": "rect", "fill": "#ffffff", "stroke": "#777", "strokeDash": [1, 1.5], "strokeWidth": 1.2}, "encoding": {"x": {"datum": 3.27}, "x2": {"datum": 1000}, "y": {"datum": 86.2}, "y2": {"datum": 105}}},
   {"data": {"values": [{}]}, "mark": {"type": "rect", "fill": "#d0d0d0", "stroke": "#777", "strokeDash": [1, 1.5], "strokeWidth": 1.2}, "encoding": {"x": {"datum": 5.18}, "x2": {"datum": 1000}, "y": {"datum": 99.4}, "y2": {"datum": 105}}},
   {"data": {"values": [{}]}, "mark": {"type": "rect", "fill": "#d0d0d0", "stroke": "#777", "strokeDash": [1, 1.5], "strokeWidth": 1.2}, "encoding": {"x": {"datum": 3.27}, "x2": {"datum": 5.18}, "y": {"datum": 86.2}, "y2": {"datum": 99.4}}},
   {"data": {"values": [{}]}, "mark": {"type": "rect", "fill": "#ffffff", "stroke": "#777", "strokeDash": [1, 1.5], "strokeWidth": 1.2}, "encoding": {"x": {"datum": 5.18}, "x2": {"datum": 1000}, "y": {"datum": 92.8}, "y2": {"datum": 99.4}}},
   {"data": {"values": [{}]}, "mark": {"type": "rect", "fill": "#f2f2f2", "stroke": "#444", "strokeWidth": 1}, "encoding": {"x": {"datum": 3.73}, "x2": {"datum": 4.85}, "y": {"datum": 95.3}, "y2": {"datum": 98.4}}},
   {"data": {"values": [{}]}, "mark": {"type": "rect", "fill": "#000000"}, "encoding": {"x": {"datum": 3.73}, "x2": {"datum": 4.85}, "y": {"datum": 88.4}, "y2": {"datum": 91.6}}},
   {"data": {"values": [{}]}, "mark": {"type": "text", "text": "Geometric Mean : FL2 LOG", "font": "DejaVu Serif", "fontWeight": "bold", "fontSize": 14.5, "color": "#333", "align": "left", "baseline": "middle"}, "encoding": {"x": {"datum": 6.04}, "y": {"datum": 102.2}}},
   {"data": {"name": "meta"}, "transform": [{"filter": "datum.p == 'r3c1'"}], "mark": {"type": "text", "font": "Liberation Serif", "fontWeight": "bold", "fontSize": 10, "color": "#333", "align": "right", "baseline": "middle"}, "encoding": {"x": {"datum": 935}, "y": {"datum": 96.1}, "text": {"field": "iso"}}},
   {"data": {"name": "meta"}, "transform": [{"filter": "datum.p == 'r3c1'"}], "mark": {"type": "text", "font": "Liberation Serif", "fontWeight": "bold", "fontSize": 10, "color": "#333", "align": "right", "baseline": "middle"}, "encoding": {"x": {"datum": 935}, "y": {"datum": 89.5}, "text": {"field": "nk"}}}
  ]},
 {"width": 420, "height": 334,
  "layer": [
   {"data": {"name": "iso"}, "mark": {"type": "area", "color": "#cfcfcf"},
    "encoding": {"x": {"field": "v", "type": "quantitative", "scale": {"type": "log", "domain": [0.1, 1000]}, "axis": {"title": null, "values": [0.1,0.2,0.5,1,2,5,10,20,50,100,200,500,1000], "labelExpr": "datum.value == 0.1 ? '10⁻¹' : datum.value == 1 ? '10⁰' : datum.value == 10 ? '10¹' : datum.value == 100 ? '10²' : datum.value == 1000 ? '10³' : ''", "tickSize": {"condition": {"test": "datum.value == 0.1 || datum.value == 1 || datum.value == 10 || datum.value == 100 || datum.value == 1000", "value": 12}, "value": 5}, "labelAngle": -45, "labelAlign": "center", "labelBaseline": "middle", "labelPadding": 18, "labelOffset": {"condition": {"test": "datum.value == 1000", "value": -6}, "value": 5}, "labelFontSize": 13, "labelFlush": false, "labelOverlap": false}},
     "y": {"field": "c", "type": "quantitative", "scale": {"domain": [0, 105], "nice": false}, "axis": {"values": [0,20,40,60,80,100], "tickSize": 13, "labelPadding": 9, "title": null}}}},
   {"data": {"name": "nk"}, "transform": [{"filter": "datum.p == 'r3c2'"}], "mark": {"type": "area", "color": "#000000"}, "encoding": {"x": {"field": "v", "type": "quantitative"}, "y": {"field": "c", "type": "quantitative"}}},
   {"data": {"name": "iso"}, "mark": {"type": "line", "color": "#6e6e6e", "strokeWidth": 1.5}, "encoding": {"x": {"field": "v", "type": "quantitative"}, "y": {"field": "c", "type": "quantitative"}}},
   {"data": {"name": "meta"}, "transform": [{"filter": "datum.p == 'r3c2'"}], "mark": {"type": "rule", "color": "#333", "strokeWidth": 1.5, "strokeDash": [2, 2]}, "encoding": {"x": {"field": "gate", "type": "quantitative"}, "x2": {"datum": 1000}, "y": {"datum": 8.5}}},
   {"data": {"name": "meta"}, "transform": [{"filter": "datum.p == 'r3c2'"}], "mark": {"type": "rect", "color": "#ffffff", "opacity": 0.62, "x2Offset": 82}, "encoding": {"x": {"field": "lab", "type": "quantitative"}, "x2": {"field": "lab"}, "y": {"datum": 11}, "y2": {"datum": 26.7}}},
   {"data": {"name": "meta"}, "transform": [{"filter": "datum.p == 'r3c2'"}], "mark": {"type": "text", "text": "PE subset", "dx": 41, "font": "DejaVu Serif", "fontWeight": "bold", "fontSize": 13, "color": "#222", "align": "center", "baseline": "middle"}, "encoding": {"x": {"field": "lab", "type": "quantitative"}, "y": {"datum": 22}}},
   {"data": {"name": "meta"}, "transform": [{"filter": "datum.p == 'r3c2'"}], "mark": {"type": "text", "dx": 41, "font": "DejaVu Serif", "fontWeight": "bold", "fontSize": 13, "color": "#222", "align": "center", "baseline": "middle"}, "encoding": {"x": {"field": "lab", "type": "quantitative"}, "y": {"datum": 16}, "text": {"field": "pct"}}},
   {"data": {"values": [{}]}, "mark": {"type": "rect", "fill": "#ffffff", "stroke": "#777", "strokeDash": [1, 1.5], "strokeWidth": 1.2}, "encoding": {"x": {"datum": 3.27}, "x2": {"datum": 1000}, "y": {"datum": 86.2}, "y2": {"datum": 105}}},
   {"data": {"values": [{}]}, "mark": {"type": "rect", "fill": "#d0d0d0", "stroke": "#777", "strokeDash": [1, 1.5], "strokeWidth": 1.2}, "encoding": {"x": {"datum": 5.18}, "x2": {"datum": 1000}, "y": {"datum": 99.4}, "y2": {"datum": 105}}},
   {"data": {"values": [{}]}, "mark": {"type": "rect", "fill": "#d0d0d0", "stroke": "#777", "strokeDash": [1, 1.5], "strokeWidth": 1.2}, "encoding": {"x": {"datum": 3.27}, "x2": {"datum": 5.18}, "y": {"datum": 86.2}, "y2": {"datum": 99.4}}},
   {"data": {"values": [{}]}, "mark": {"type": "rect", "fill": "#ffffff", "stroke": "#777", "strokeDash": [1, 1.5], "strokeWidth": 1.2}, "encoding": {"x": {"datum": 5.18}, "x2": {"datum": 1000}, "y": {"datum": 92.8}, "y2": {"datum": 99.4}}},
   {"data": {"values": [{}]}, "mark": {"type": "rect", "fill": "#f2f2f2", "stroke": "#444", "strokeWidth": 1}, "encoding": {"x": {"datum": 3.73}, "x2": {"datum": 4.85}, "y": {"datum": 95.3}, "y2": {"datum": 98.4}}},
   {"data": {"values": [{}]}, "mark": {"type": "rect", "fill": "#000000"}, "encoding": {"x": {"datum": 3.73}, "x2": {"datum": 4.85}, "y": {"datum": 88.4}, "y2": {"datum": 91.6}}},
   {"data": {"values": [{}]}, "mark": {"type": "text", "text": "Geometric Mean : FL2 LOG", "font": "DejaVu Serif", "fontWeight": "bold", "fontSize": 14.5, "color": "#333", "align": "left", "baseline": "middle"}, "encoding": {"x": {"datum": 6.04}, "y": {"datum": 102.2}}},
   {"data": {"name": "meta"}, "transform": [{"filter": "datum.p == 'r3c2'"}], "mark": {"type": "text", "font": "Liberation Serif", "fontWeight": "bold", "fontSize": 10, "color": "#333", "align": "right", "baseline": "middle"}, "encoding": {"x": {"datum": 935}, "y": {"datum": 96.1}, "text": {"field": "iso"}}},
   {"data": {"name": "meta"}, "transform": [{"filter": "datum.p == 'r3c2'"}], "mark": {"type": "text", "font": "Liberation Serif", "fontWeight": "bold", "fontSize": 10, "color": "#333", "align": "right", "baseline": "middle"}, "encoding": {"x": {"datum": 935}, "y": {"datum": 89.5}, "text": {"field": "nk"}}}
  ]},
 {"width": 420, "height": 334,
  "layer": [
   {"data": {"name": "iso"}, "mark": {"type": "area", "color": "#cfcfcf"},
    "encoding": {"x": {"field": "v", "type": "quantitative", "scale": {"type": "log", "domain": [0.1, 1000]}, "axis": {"title": "NKG2D", "titleFontSize": 18, "titleY": 58, "titleBaseline": "middle", "values": [0.1,0.2,0.5,1,2,5,10,20,50,100,200,500,1000], "labelExpr": "datum.value == 0.1 ? '10⁻¹' : datum.value == 1 ? '10⁰' : datum.value == 10 ? '10¹' : datum.value == 100 ? '10²' : datum.value == 1000 ? '10³' : ''", "tickSize": {"condition": {"test": "datum.value == 0.1 || datum.value == 1 || datum.value == 10 || datum.value == 100 || datum.value == 1000", "value": 12}, "value": 5}, "labelAngle": -45, "labelAlign": "center", "labelBaseline": "middle", "labelPadding": 18, "labelOffset": {"condition": {"test": "datum.value == 1000", "value": -6}, "value": 5}, "labelFontSize": 13, "labelFlush": false, "labelOverlap": false}},
     "y": {"field": "c", "type": "quantitative", "scale": {"domain": [0, 105], "nice": false}, "axis": {"values": [0,20,40,60,80,100], "tickSize": 13, "labelPadding": 9, "title": "ST63", "titleAngle": 0, "titleX": -101, "titleY": 173, "titleAlign": "center", "titleBaseline": "middle", "titleFontSize": 15}}}},
   {"data": {"name": "nk"}, "transform": [{"filter": "datum.p == 'r4c1'"}], "mark": {"type": "area", "color": "#000000"}, "encoding": {"x": {"field": "v", "type": "quantitative"}, "y": {"field": "c", "type": "quantitative"}}},
   {"data": {"name": "iso"}, "mark": {"type": "line", "color": "#6e6e6e", "strokeWidth": 1.5}, "encoding": {"x": {"field": "v", "type": "quantitative"}, "y": {"field": "c", "type": "quantitative"}}},
   {"data": {"name": "meta"}, "transform": [{"filter": "datum.p == 'r4c1'"}], "mark": {"type": "rule", "color": "#333", "strokeWidth": 1.5, "strokeDash": [2, 2]}, "encoding": {"x": {"field": "gate", "type": "quantitative"}, "x2": {"datum": 1000}, "y": {"datum": 8.5}}},
   {"data": {"name": "meta"}, "transform": [{"filter": "datum.p == 'r4c1'"}], "mark": {"type": "rect", "color": "#ffffff", "opacity": 0.62, "x2Offset": 82}, "encoding": {"x": {"field": "lab", "type": "quantitative"}, "x2": {"field": "lab"}, "y": {"datum": 11}, "y2": {"datum": 26.7}}},
   {"data": {"name": "meta"}, "transform": [{"filter": "datum.p == 'r4c1'"}], "mark": {"type": "text", "text": "PE subset", "dx": 41, "font": "DejaVu Serif", "fontWeight": "bold", "fontSize": 13, "color": "#222", "align": "center", "baseline": "middle"}, "encoding": {"x": {"field": "lab", "type": "quantitative"}, "y": {"datum": 22}}},
   {"data": {"name": "meta"}, "transform": [{"filter": "datum.p == 'r4c1'"}], "mark": {"type": "text", "dx": 41, "font": "DejaVu Serif", "fontWeight": "bold", "fontSize": 13, "color": "#222", "align": "center", "baseline": "middle"}, "encoding": {"x": {"field": "lab", "type": "quantitative"}, "y": {"datum": 16}, "text": {"field": "pct"}}},
   {"data": {"values": [{}]}, "mark": {"type": "rect", "fill": "#ffffff", "stroke": "#777", "strokeDash": [1, 1.5], "strokeWidth": 1.2}, "encoding": {"x": {"datum": 3.27}, "x2": {"datum": 1000}, "y": {"datum": 86.2}, "y2": {"datum": 105}}},
   {"data": {"values": [{}]}, "mark": {"type": "rect", "fill": "#d0d0d0", "stroke": "#777", "strokeDash": [1, 1.5], "strokeWidth": 1.2}, "encoding": {"x": {"datum": 5.18}, "x2": {"datum": 1000}, "y": {"datum": 99.4}, "y2": {"datum": 105}}},
   {"data": {"values": [{}]}, "mark": {"type": "rect", "fill": "#d0d0d0", "stroke": "#777", "strokeDash": [1, 1.5], "strokeWidth": 1.2}, "encoding": {"x": {"datum": 3.27}, "x2": {"datum": 5.18}, "y": {"datum": 86.2}, "y2": {"datum": 99.4}}},
   {"data": {"values": [{}]}, "mark": {"type": "rect", "fill": "#ffffff", "stroke": "#777", "strokeDash": [1, 1.5], "strokeWidth": 1.2}, "encoding": {"x": {"datum": 5.18}, "x2": {"datum": 1000}, "y": {"datum": 92.8}, "y2": {"datum": 99.4}}},
   {"data": {"values": [{}]}, "mark": {"type": "rect", "fill": "#f2f2f2", "stroke": "#444", "strokeWidth": 1}, "encoding": {"x": {"datum": 3.73}, "x2": {"datum": 4.85}, "y": {"datum": 95.3}, "y2": {"datum": 98.4}}},
   {"data": {"values": [{}]}, "mark": {"type": "rect", "fill": "#000000"}, "encoding": {"x": {"datum": 3.73}, "x2": {"datum": 4.85}, "y": {"datum": 88.4}, "y2": {"datum": 91.6}}},
   {"data": {"values": [{}]}, "mark": {"type": "text", "text": "Geometric Mean : FL2 LOG", "font": "DejaVu Serif", "fontWeight": "bold", "fontSize": 14.5, "color": "#333", "align": "left", "baseline": "middle"}, "encoding": {"x": {"datum": 6.04}, "y": {"datum": 102.2}}},
   {"data": {"name": "meta"}, "transform": [{"filter": "datum.p == 'r4c1'"}], "mark": {"type": "text", "font": "Liberation Serif", "fontWeight": "bold", "fontSize": 10, "color": "#333", "align": "right", "baseline": "middle"}, "encoding": {"x": {"datum": 935}, "y": {"datum": 96.1}, "text": {"field": "iso"}}},
   {"data": {"name": "meta"}, "transform": [{"filter": "datum.p == 'r4c1'"}], "mark": {"type": "text", "font": "Liberation Serif", "fontWeight": "bold", "fontSize": 10, "color": "#333", "align": "right", "baseline": "middle"}, "encoding": {"x": {"datum": 935}, "y": {"datum": 89.5}, "text": {"field": "nk"}}}
  ]},
 {"width": 420, "height": 334,
  "layer": [
   {"data": {"name": "iso"}, "mark": {"type": "area", "color": "#cfcfcf"},
    "encoding": {"x": {"field": "v", "type": "quantitative", "scale": {"type": "log", "domain": [0.1, 1000]}, "axis": {"title": "NKG2D", "titleFontSize": 18, "titleY": 58, "titleBaseline": "middle", "values": [0.1,0.2,0.5,1,2,5,10,20,50,100,200,500,1000], "labelExpr": "datum.value == 0.1 ? '10⁻¹' : datum.value == 1 ? '10⁰' : datum.value == 10 ? '10¹' : datum.value == 100 ? '10²' : datum.value == 1000 ? '10³' : ''", "tickSize": {"condition": {"test": "datum.value == 0.1 || datum.value == 1 || datum.value == 10 || datum.value == 100 || datum.value == 1000", "value": 12}, "value": 5}, "labelAngle": -45, "labelAlign": "center", "labelBaseline": "middle", "labelPadding": 18, "labelOffset": {"condition": {"test": "datum.value == 1000", "value": -6}, "value": 5}, "labelFontSize": 13, "labelFlush": false, "labelOverlap": false}},
     "y": {"field": "c", "type": "quantitative", "scale": {"domain": [0, 105], "nice": false}, "axis": {"values": [0,20,40,60,80,100], "tickSize": 13, "labelPadding": 9, "title": null}}}},
   {"data": {"name": "nk"}, "transform": [{"filter": "datum.p == 'r4c2'"}], "mark": {"type": "area", "color": "#000000"}, "encoding": {"x": {"field": "v", "type": "quantitative"}, "y": {"field": "c", "type": "quantitative"}}},
   {"data": {"name": "iso"}, "mark": {"type": "line", "color": "#6e6e6e", "strokeWidth": 1.5}, "encoding": {"x": {"field": "v", "type": "quantitative"}, "y": {"field": "c", "type": "quantitative"}}},
   {"data": {"name": "meta"}, "transform": [{"filter": "datum.p == 'r4c2'"}], "mark": {"type": "rule", "color": "#333", "strokeWidth": 1.5, "strokeDash": [2, 2]}, "encoding": {"x": {"field": "gate", "type": "quantitative"}, "x2": {"datum": 1000}, "y": {"datum": 8.5}}},
   {"data": {"name": "meta"}, "transform": [{"filter": "datum.p == 'r4c2'"}], "mark": {"type": "rect", "color": "#ffffff", "opacity": 0.62, "x2Offset": 82}, "encoding": {"x": {"field": "lab", "type": "quantitative"}, "x2": {"field": "lab"}, "y": {"datum": 11}, "y2": {"datum": 26.7}}},
   {"data": {"name": "meta"}, "transform": [{"filter": "datum.p == 'r4c2'"}], "mark": {"type": "text", "text": "PE subset", "dx": 41, "font": "DejaVu Serif", "fontWeight": "bold", "fontSize": 13, "color": "#222", "align": "center", "baseline": "middle"}, "encoding": {"x": {"field": "lab", "type": "quantitative"}, "y": {"datum": 22}}},
   {"data": {"name": "meta"}, "transform": [{"filter": "datum.p == 'r4c2'"}], "mark": {"type": "text", "dx": 41, "font": "DejaVu Serif", "fontWeight": "bold", "fontSize": 13, "color": "#222", "align": "center", "baseline": "middle"}, "encoding": {"x": {"field": "lab", "type": "quantitative"}, "y": {"datum": 16}, "text": {"field": "pct"}}},
   {"data": {"values": [{}]}, "mark": {"type": "rect", "fill": "#ffffff", "stroke": "#777", "strokeDash": [1, 1.5], "strokeWidth": 1.2}, "encoding": {"x": {"datum": 3.27}, "x2": {"datum": 1000}, "y": {"datum": 86.2}, "y2": {"datum": 105}}},
   {"data": {"values": [{}]}, "mark": {"type": "rect", "fill": "#d0d0d0", "stroke": "#777", "strokeDash": [1, 1.5], "strokeWidth": 1.2}, "encoding": {"x": {"datum": 5.18}, "x2": {"datum": 1000}, "y": {"datum": 99.4}, "y2": {"datum": 105}}},
   {"data": {"values": [{}]}, "mark": {"type": "rect", "fill": "#d0d0d0", "stroke": "#777", "strokeDash": [1, 1.5], "strokeWidth": 1.2}, "encoding": {"x": {"datum": 3.27}, "x2": {"datum": 5.18}, "y": {"datum": 86.2}, "y2": {"datum": 99.4}}},
   {"data": {"values": [{}]}, "mark": {"type": "rect", "fill": "#ffffff", "stroke": "#777", "strokeDash": [1, 1.5], "strokeWidth": 1.2}, "encoding": {"x": {"datum": 5.18}, "x2": {"datum": 1000}, "y": {"datum": 92.8}, "y2": {"datum": 99.4}}},
   {"data": {"values": [{}]}, "mark": {"type": "rect", "fill": "#f2f2f2", "stroke": "#444", "strokeWidth": 1}, "encoding": {"x": {"datum": 3.73}, "x2": {"datum": 4.85}, "y": {"datum": 95.3}, "y2": {"datum": 98.4}}},
   {"data": {"values": [{}]}, "mark": {"type": "rect", "fill": "#000000"}, "encoding": {"x": {"datum": 3.73}, "x2": {"datum": 4.85}, "y": {"datum": 88.4}, "y2": {"datum": 91.6}}},
   {"data": {"values": [{}]}, "mark": {"type": "text", "text": "Geometric Mean : FL2 LOG", "font": "DejaVu Serif", "fontWeight": "bold", "fontSize": 14.5, "color": "#333", "align": "left", "baseline": "middle"}, "encoding": {"x": {"datum": 6.04}, "y": {"datum": 102.2}}},
   {"data": {"name": "meta"}, "transform": [{"filter": "datum.p == 'r4c2'"}], "mark": {"type": "text", "font": "Liberation Serif", "fontWeight": "bold", "fontSize": 10, "color": "#333", "align": "right", "baseline": "middle"}, "encoding": {"x": {"datum": 935}, "y": {"datum": 96.1}, "text": {"field": "iso"}}},
   {"data": {"name": "meta"}, "transform": [{"filter": "datum.p == 'r4c2'"}], "mark": {"type": "text", "font": "Liberation Serif", "fontWeight": "bold", "fontSize": 10, "color": "#333", "align": "right", "baseline": "middle"}, "encoding": {"x": {"datum": 935}, "y": {"datum": 89.5}, "text": {"field": "nk"}}}
  ]}
]
}
